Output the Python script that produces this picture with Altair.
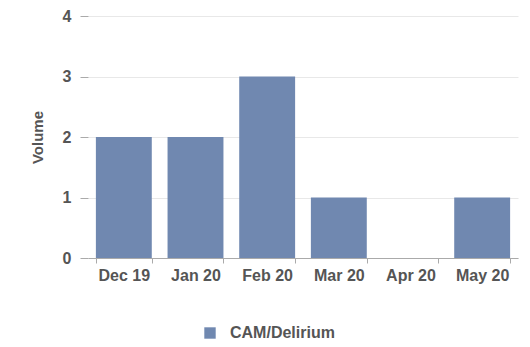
import altair as alt
import pandas as pd

months = ["Dec 19", "Jan 20", "Feb 20", "Mar 20", "Apr 20", "May 20"]
volume = [2, 2, 3, 1, 0, 1]
series = ["CAM/Delirium"] * len(months)

df = pd.DataFrame({"month": months, "volume": volume, "series": series})

FONT = "Liberation Sans"
TXT = "#555555"

chart = alt.Chart(df).mark_bar(color="#7088b0").encode(
    x=alt.X("month:N", sort=months, title=None,
            scale=alt.Scale(paddingInner=0.22, paddingOuter=0.11),
            axis=alt.Axis(labelAngle=0, tickBand="extent", labelFontWeight="bold",
                          labelFontSize=16, labelColor=TXT, labelFont=FONT,
                          domainColor="#aaaaaa", tickColor="#aaaaaa", tickSize=5,
                          labelPadding=4)),
    y=alt.Y("volume:Q", title="Volume", scale=alt.Scale(domain=[0, 4]),
            axis=alt.Axis(values=[0, 1, 2, 3, 4], format="d", domain=False,
                          tickColor="#aaaaaa", tickSize=8,
                          labelFontWeight="bold", labelFontSize=16, labelColor=TXT,
                          labelFont=FONT, labelPadding=9,
                          gridColor="#e8e8e8", titleFont=FONT,
                          titleFontSize=15, titleFontWeight="bold", titleColor=TXT,
                          titlePadding=17)),
    fill=alt.Fill("series:N", scale=alt.Scale(range=["#7088b0"]),
                  legend=alt.Legend(title=None, orient="none", legendX=114, legendY=309,
                                    symbolType="square", symbolSize=130,
                                    labelFont=FONT, labelFontSize=16,
                                    labelColor=TXT, labelFontWeight="bold",
                                    labelOffset=12)),
).properties(
    width=430, height=242,
    autosize=alt.AutoSizeParams(type="none"),
    padding={"left": 88, "top": 16, "right": 12, "bottom": 89},
).configure_view(stroke=None)

chart.save("out.html", embed_options={"renderer": "svg", "actions": False})
